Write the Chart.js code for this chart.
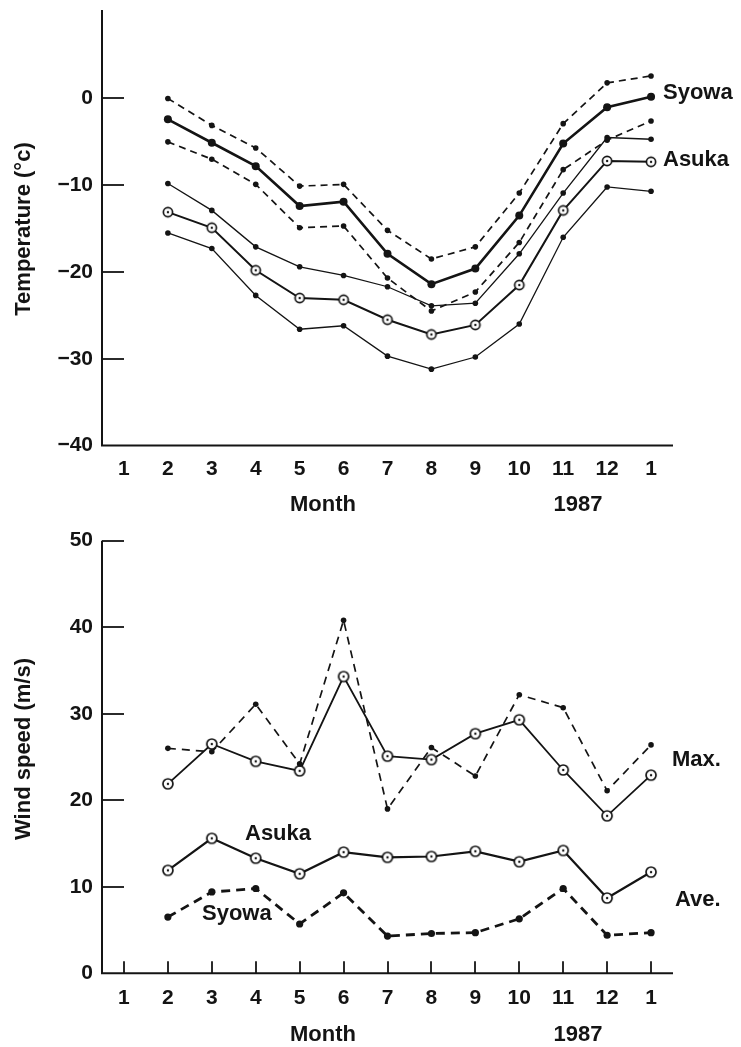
<!DOCTYPE html>
<html lang="en">
<head>
<meta charset="UTF-8">
<title>Syowa / Asuka temperature and wind speed</title>
<script src="https://cdn.jsdelivr.net/npm/chart.js"></script>
<style>
    * { margin: 0; padding: 0; box-sizing: border-box; }
    body { background: #ffffff; width: 741px; height: 1047px; overflow: hidden; }
    canvas { position: absolute; left: 0; }
    #tempChart { top: 0; }
    #windChart { top: 530px; }
</style>
</head>
<body>
<canvas id="tempChart" width="741" height="530"></canvas>
<canvas id="windChart" width="741" height="517"></canvas>

<script>
    // months Jan 1986 .. Jan 1987 (first month has no data)
    var monthLabels = ['1', '2', '3', '4', '5', '6', '7', '8', '9', '10', '11', '12', '1'];

    // temperature (deg C)
    var syowaTempMax  = [null, 0.0, -3.1, -5.7, -10.1, -9.9, -15.2, -18.5, -17.1, -10.9, -2.9, 1.8, 2.6];
    var syowaTempMean = [null, -2.4, -5.1, -7.8, -12.4, -11.9, -17.9, -21.4, -19.6, -13.5, -5.2, -1.0, 0.2];
    var syowaTempMin  = [null, -5.0, -7.0, -9.9, -14.9, -14.7, -20.7, -24.5, -22.3, -16.6, -8.2, -4.8, -2.6];
    var asukaTempMax  = [null, -9.8, -12.9, -17.1, -19.4, -20.4, -21.7, -23.9, -23.6, -17.9, -10.9, -4.5, -4.7];
    var asukaTempMean = [null, -13.1, -14.9, -19.8, -23.0, -23.2, -25.5, -27.2, -26.1, -21.5, -12.9, -7.2, -7.3];
    var asukaTempMin  = [null, -15.5, -17.3, -22.7, -26.6, -26.2, -29.7, -31.2, -29.8, -26.0, -16.0, -10.2, -10.7];
    var tempTicks = [-40, -30, -20, -10, 0];

    // wind speed (m/s)
    var asukaWindMax = [null, 21.9, 26.5, 24.5, 23.4, 34.3, 25.1, 24.7, 27.7, 29.3, 23.5, 18.2, 22.9];
    var syowaWindMax = [null, 26.0, 25.6, 31.1, 24.2, 40.8, 19.0, 26.1, 22.8, 32.2, 30.7, 21.1, 26.4];
    var asukaWindAve = [null, 11.9, 15.6, 13.3, 11.5, 14.0, 13.4, 13.5, 14.1, 12.9, 14.2, 8.7, 11.7];
    var syowaWindAve = [null, 6.5, 9.4, 9.8, 5.7, 9.3, 4.3, 4.6, 4.7, 6.3, 9.8, 4.4, 4.7];
    var windTicks = [0, 10, 20, 30, 40, 50];

    var INK = '#141414';
    var FONT = '"Liberation Sans", Arial, sans-serif';

    // open circle with a dot in the middle
    function circleDot(r) {
        var c = document.createElement('canvas');
        var s = Math.ceil(r * 2 + 4);
        c.width = s; c.height = s;
        var g = c.getContext('2d');
        g.beginPath();
        g.arc(s / 2, s / 2, r, 0, Math.PI * 2);
        g.fillStyle = '#fff';
        g.fill();
        g.lineWidth = 1.7;
        g.strokeStyle = INK;
        g.stroke();
        g.beginPath();
        g.arc(s / 2, s / 2, 1.2, 0, Math.PI * 2);
        g.fillStyle = INK;
        g.fill();
        return c;
    }

    function series(data, width, dash, radius, style) {
        return {
            data: data,
            borderColor: INK,
            backgroundColor: INK,
            borderWidth: width,
            borderDash: dash,
            pointStyle: style || 'circle',
            pointRadius: radius,
            pointBorderWidth: 0,
            pointBackgroundColor: INK,
            tension: 0,
            spanGaps: false
        };
    }

    // axes, inward ticks and text drawn with the chart's own scales
    var decor = {
        id: 'decor',
        afterDraw: function (chart, args, opts) {
            var ctx = chart.ctx, a = chart.chartArea;
            var x = chart.scales.x, y = chart.scales.y;
            ctx.save();
            ctx.strokeStyle = INK;
            ctx.lineWidth = 2;
            ctx.beginPath();
            ctx.moveTo(a.left, opts.axisTop);
            ctx.lineTo(a.left, a.bottom);
            ctx.lineTo(a.right, a.bottom);
            ctx.stroke();
            ctx.lineWidth = 1.8;
            opts.yTicks.forEach(function (v) {
                var py = Math.round(y.getPixelForValue(v));
                ctx.beginPath();
                ctx.moveTo(a.left, py);
                ctx.lineTo(a.left + 22, py);
                ctx.stroke();
            });
            if (opts.xTicks) {
                monthLabels.forEach(function (m, i) {
                    var px = Math.round(x.getPixelForValue(i));
                    ctx.beginPath();
                    ctx.moveTo(px, a.bottom);
                    ctx.lineTo(px, a.bottom - 12);
                    ctx.stroke();
                });
            }
            ctx.fillStyle = INK;
            ctx.textBaseline = 'middle';
            ctx.font = 'bold 22px ' + FONT;
            opts.texts.forEach(function (t) {
                ctx.textAlign = t.align || 'left';
                ctx.fillText(t.text, t.x, t.y);
            });
            ctx.translate(24, opts.titleY);
            ctx.rotate(-Math.PI / 2);
            ctx.textAlign = 'center';
            ctx.fillText(opts.title, 0, 0);
            ctx.restore();
        }
    };

    function makeOptions(yMin, yMax, yTicks, padTop, xHeight, xPad, decorOpts) {
        return {
            responsive: false,
            animation: false,
            devicePixelRatio: 1,
            layout: { padding: { top: padTop, right: 68, left: 0, bottom: 0 } },
            plugins: { legend: { display: false }, tooltip: { enabled: false }, decor: decorOpts },
            scales: {
                x: {
                    type: 'category',
                    offset: true,
                    grid: { display: false, drawTicks: false },
                    border: { display: false },
                    ticks: { color: INK, padding: xPad, maxRotation: 0, autoSkip: false,
                             font: { family: FONT, size: 21, weight: 'bold' } },
                    afterFit: function (s) { s.height = xHeight; s.paddingLeft = 0; s.paddingRight = 0; }
                },
                y: {
                    min: yMin, max: yMax,
                    grid: { display: false, drawTicks: false },
                    border: { display: false },
                    afterBuildTicks: function (s) { s.ticks = yTicks.map(function (v) { return { value: v }; }); },
                    ticks: { color: INK, padding: 9,
                             font: { family: FONT, size: 21, weight: 'bold' },
                             callback: function (v) { return String(v).replace('-', '\u2212'); } },
                    afterFit: function (s) { s.width = 102; s.paddingTop = 0; s.paddingBottom = 0; }
                }
            }
        };
    }

    new Chart(document.getElementById('tempChart'), {
        type: 'line',
        data: {
            labels: monthLabels,
            datasets: [
                series(syowaTempMax, 1.7, [7, 5], 2.8),
                series(syowaTempMin, 1.7, [7, 5], 2.8),
                series(syowaTempMean, 2.6, [], 4),
                series(asukaTempMax, 1.3, [], 2.8),
                series(asukaTempMin, 1.3, [], 2.8),
                series(asukaTempMean, 2, [], 5, circleDot(4.6))
            ]
        },
        options: makeOptions(-40, 10.2, tempTicks, 10, 84.5, 11, {
            axisTop: 10,
            yTicks: [-30, -20, -10, 0],
            xTicks: false,
            title: 'Temperature (\u00b0c)',
            titleY: 229,
            texts: [
                { text: 'Syowa', x: 663, y: 93 },
                { text: 'Asuka', x: 663, y: 160 },
                { text: 'Month', x: 323, y: 505, align: 'center' },
                { text: '1987', x: 578, y: 505, align: 'center' }
            ]
        }),
        plugins: [decor]
    });

    new Chart(document.getElementById('windChart'), {
        type: 'line',
        data: {
            labels: monthLabels,
            datasets: [
                series(syowaWindMax, 1.7, [8, 6], 2.8),
                series(syowaWindAve, 2.8, [9, 6], 3.6),
                series(asukaWindMax, 1.8, [], 5.2, circleDot(5)),
                series(asukaWindAve, 2.2, [], 5.2, circleDot(5))
            ]
        },
        options: makeOptions(0, 50, windTicks, 10.7, 73.7, 12, {
            axisTop: 10.7,
            yTicks: [10, 20, 30, 40, 50],
            xTicks: true,
            title: 'Wind speed (m/s)',
            titleY: 219,
            texts: [
                { text: 'Max.', x: 672, y: 230 },
                { text: 'Ave.', x: 675, y: 370 },
                { text: 'Asuka', x: 245, y: 304 },
                { text: 'Syowa', x: 202, y: 384 },
                { text: 'Month', x: 323, y: 505, align: 'center' },
                { text: '1987', x: 578, y: 505, align: 'center' }
            ]
        }),
        plugins: [decor]
    });
</script>
</body>
</html>
